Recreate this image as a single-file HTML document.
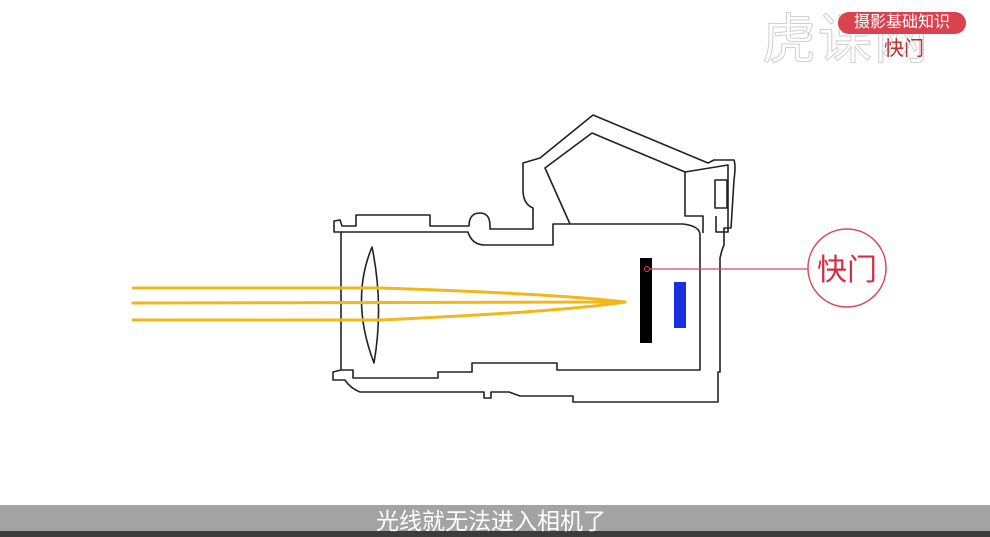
<!DOCTYPE html>
<html><head><meta charset="utf-8"><style>
html,body{margin:0;padding:0;background:#fff;}
body{width:990px;height:537px;position:relative;overflow:hidden;font-family:"Liberation Sans","Noto Sans CJK SC",sans-serif;}
.bar{position:absolute;left:0;top:505px;width:990px;height:26px;background:#a3a3a3;}
.dark{position:absolute;left:0;top:531px;width:990px;height:6px;background:#3c3c3c;}
.sub{position:absolute;left:376px;top:507px;font-size:23px;color:#fff;letter-spacing:0px;white-space:nowrap;line-height:28px;}
.pill{position:absolute;left:838px;top:12px;width:128px;height:22px;border-radius:11px;background:#d8434f;color:#fff;font-size:16px;line-height:22px;text-align:center;}
.k{position:absolute;left:884px;top:37px;font-size:20px;color:#b33;line-height:24px;}
.wm{position:absolute;left:762px;top:10px;font-size:54px;color:transparent;-webkit-text-stroke:1px #cfcfcf;line-height:60px;letter-spacing:2px;}
</style></head><body>
<div class="wm">虎课网</div>
<div class="pill">摄影基础知识</div>
<div class="k">快门</div>
<svg width="990" height="537" style="position:absolute;left:0;top:0" xmlns="http://www.w3.org/2000/svg">
<g fill="none" stroke="#222" stroke-width="1.6" stroke-linejoin="round">
<path d="M341,232 L334,232 L334,221 L340,220 L342,226 L356,226 L356,215 L430,215 L430,226 L469,226 Q469,213 480,213 Q490,213 490,226 L490,229 L533,229 L533,208 Q523,204 523,190 L523,163 L540,158 L593,115 L708,163 L714,160 L734,160 Q736,165 734,180 L731,228 L724,228 L724,245 L722,250 L720,258 L720,372 L718,372 L718,402 L573,402 L573,396 L520,396 L509,392 L491,392 L491,398 L484,398 L484,392 L360,392 Q350,388 345,380 L333,380 L333,372 L341,370 Z"/>
<path d="M341,232 L468,232 Q472,245 485,245 L553,245 L553,224 L683,224 Q700,226 700,235 L700,370 L557,370 L557,363 L472,363 L472,372 L438,372 L438,378 L353,378 L353,370 L341,370"/>
<path d="M570,224 L545,168 L592,133 L685,172 L685,216 L703,216 L703,233"/>
<path d="M685,172 L728,165 L728,232 L716,232 L716,216"/>
<rect x="715" y="180" width="12" height="28"/>
<path d="M372,247 Q350,300 374,363 Q384,305 372,247 Z"/>
</g>
<g fill="none" stroke="#f1b81c" stroke-width="3" stroke-linecap="round">
<path d="M133,288 L380,288 Q560,294 625,302"/>
<path d="M133,303 L625,302"/>
<path d="M133,320 L380,320 Q560,312 625,302"/>
</g>
<rect x="640" y="258" width="12" height="85" fill="#000"/>
<rect x="674" y="282" width="12" height="46" fill="#1a2fe0"/>
<circle cx="647" cy="269" r="2.5" fill="none" stroke="#d44" stroke-width="1"/>
<line x1="649" y1="269" x2="808" y2="269" stroke="#d84a58" stroke-width="1.3"/>
<circle cx="847" cy="268" r="39" fill="#fff" stroke="#d84a58" stroke-width="1.5"/>
<text x="847" y="280" font-size="30" fill="#d23040" text-anchor="middle" font-family="Liberation Sans, Noto Sans CJK SC, sans-serif">快门</text>
</svg>
<div class="bar"></div>
<div class="dark"></div>
<div class="sub">光线就无法进入相机了</div>
</body></html>
